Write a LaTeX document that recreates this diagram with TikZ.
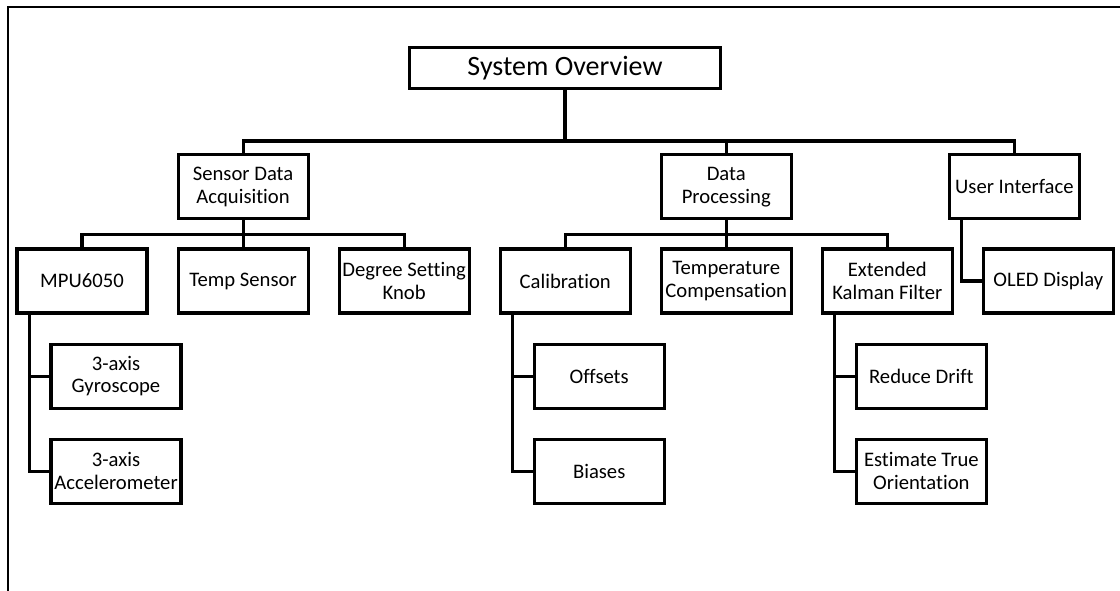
\documentclass[tikz,border=0pt]{standalone}
\usepackage{fontspec}
\setmainfont{Carlito}[Ligatures=NoCommon]
\usetikzlibrary{positioning}

\begin{document}
\begin{tikzpicture}[x=0.75pt,y=-0.75pt,
        block/.style={draw,line width=2.3pt,minimum width=97.5pt,minimum height=48pt,
            inner sep=0.5pt,align=center,font=\fontsize{15.5}{17}\selectfont},
        link/.style={line width=2.3pt},
        node distance=21pt]
    \useasboundingbox (0,0) rectangle (1120,591);
    \draw[line width=1.5pt] (8,591) -- (8,7) -- (1120,7);
    % top level
    \node[block,minimum width=233.25pt,minimum height=30.75pt,
        font=\fontsize{21}{24}\selectfont] (sys) at (565,68) {System Overview};
    % second row
    \node[block] (mpu) at (82,281) {MPU6050};
    \node[block,right=of mpu] (temp) {Temp Sensor};
    \node[block,right=of temp] (knob) {Degree Setting\\Knob};
    \node[block,right=of knob] (calib) {Calibration};
    \node[block,right=of calib] (tcomp) {Temperature\\Compensation};
    \node[block,right=of tcomp] (ekf) {Extended\\Kalman Filter};
    \node[block,right=of ekf] (oled) {OLED Display};
    % groups
    \node[block,above=20.25pt of temp] (sda) {Sensor Data\\Acquisition};
    \node[block,above=20.25pt of tcomp] (dp) {Data\\Processing};
    \node[block,above=20.25pt of oled,xshift=-25.5pt] (ui) {User Interface};
    % leaves
    \node[block,below=of mpu,xshift=25.5pt] (gyro) {3-axis\\Gyroscope};
    \node[block,below=of gyro] (accel) {3-axis\\Accelerometer};
    \node[block,below=of calib,xshift=25.5pt] (offs) {Offsets};
    \node[block,below=of offs] (bias) {Biases};
    \node[block,below=of ekf,xshift=25.5pt] (drift) {Reduce Drift};
    \node[block,below=of drift] (est) {Estimate True\\Orientation};

    \coordinate (bar) at ([yshift=-38.25pt]sys.south);
    \draw[link] (sys) -- (bar);
    \draw[link] (sda.north) |- (bar) -| (ui.north);
    \draw[link] (dp.north) -- (dp.north |- bar);
    \draw[link] (mpu.north) |- ([yshift=-10.5pt]sda.south) -| (knob.north);
    \draw[link] (sda) -- (temp);
    \draw[link] (calib.north) |- ([yshift=-10.5pt]dp.south) -| (ekf.north);
    \draw[link] (dp) -- (tcomp);
    \draw[link] ([xshift=10.5pt]ui.south west) |- (oled.west);
    \draw[link] (gyro.west) -| ([xshift=10.5pt]mpu.south west);
    \draw[link] (accel.west) -| ([xshift=10.5pt]mpu.south west);
    \draw[link] (offs.west) -| ([xshift=10.5pt]calib.south west);
    \draw[link] (bias.west) -| ([xshift=10.5pt]calib.south west);
    \draw[link] (drift.west) -| ([xshift=10.5pt]ekf.south west);
    \draw[link] (est.west) -| ([xshift=10.5pt]ekf.south west);
\end{tikzpicture}
\end{document}
